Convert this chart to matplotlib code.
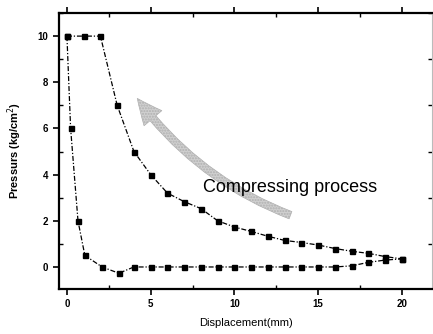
import numpy as np
import matplotlib
matplotlib.use("Agg")
from matplotlib import pyplot as plt
from matplotlib.patches import FancyArrowPatch
from matplotlib.ticker import MultipleLocator

# Releasing curve (drops fast, then stays near zero)
x_release = [0, 0.22, 0.66, 1.07, 2.1, 3.1, 4, 5, 6, 7, 8, 9, 10, 11, 12, 13, 14, 15, 16, 17, 18, 19, 20]
p_release = [10, 6, 2, 0.5, 0, -0.27, 0, 0, 0, 0, 0, 0, 0, 0, 0, 0, 0, 0, 0, 0.05, 0.2, 0.3, 0.35]

# Compressing curve
x_comp = [0, 1, 2, 3, 4, 5, 6, 7, 8, 9, 10, 11, 12, 13, 14, 15, 16, 17, 18, 19, 20]
p_comp = [10, 10, 10, 7.0, 5.0, 4.0, 3.2, 2.83, 2.53, 2.0, 1.73, 1.54, 1.33, 1.15, 1.06, 0.95, 0.8, 0.68, 0.59, 0.45, 0.35]

xticks = [0, 5, 10, 15, 20]
yticks = [0, 2, 4, 6, 8, 10]

plt.rcParams['font.family'] = ['Liberation Sans', 'DejaVu Sans']

fig = plt.figure(figsize=(4.33, 3.34), dpi=100)
ax = fig.add_axes([0.136, 0.135, 0.862, 0.826])

line_kw = dict(color='black', marker='s', markersize=3.6, linewidth=0.9,
               linestyle=(0, (4, 1.5, 1, 1.5)))
ax.plot(x_release, p_release, **line_kw)
ax.plot(x_comp, p_comp, **line_kw)

# curved gray arrow pointing up-left
arrow = FancyArrowPatch((13.5, 2.2), (4.1, 7.4),
                        connectionstyle="arc3,rad=-0.15",
                        arrowstyle="simple,head_width=1.2,head_length=1.3,tail_width=0.4",
                        mutation_scale=14, facecolor='#d0d0d0', edgecolor='#b0b0b0',
                        hatch='......', linewidth=0.5)
ax.add_patch(arrow)
ax.text(8.1, 3.45, 'Compressing process', fontsize=13, va='center', ha='left')

ax.set_xlim(-0.48, 21.8)
ax.set_ylim(-0.95, 11)
ax.set_xticks(xticks)
ax.set_yticks(yticks)
ax.xaxis.set_minor_locator(MultipleLocator(2.5))
ax.yaxis.set_minor_locator(MultipleLocator(1))
ax.tick_params(which='major', direction='out', length=4, width=1.2, labelsize=7,
               top=True, right=True)
ax.tick_params(which='minor', direction='in', length=3, width=1.0, top=True, right=True)
for lbl in ax.get_xticklabels() + ax.get_yticklabels():
    lbl.set_fontweight('bold')
for s in ['left', 'bottom', 'top']:
    ax.spines[s].set_linewidth(1.6)
ax.spines['right'].set_color('#bbbbbb')
ax.spines['right'].set_linewidth(0.8)

ax.set_xlabel('Displacement(mm)', fontsize=8, labelpad=6)
ax.set_ylabel('Pressurs (kg/cm$^2$)', fontsize=8, fontweight='bold', labelpad=10)

fig.savefig('out.png', dpi=100)
